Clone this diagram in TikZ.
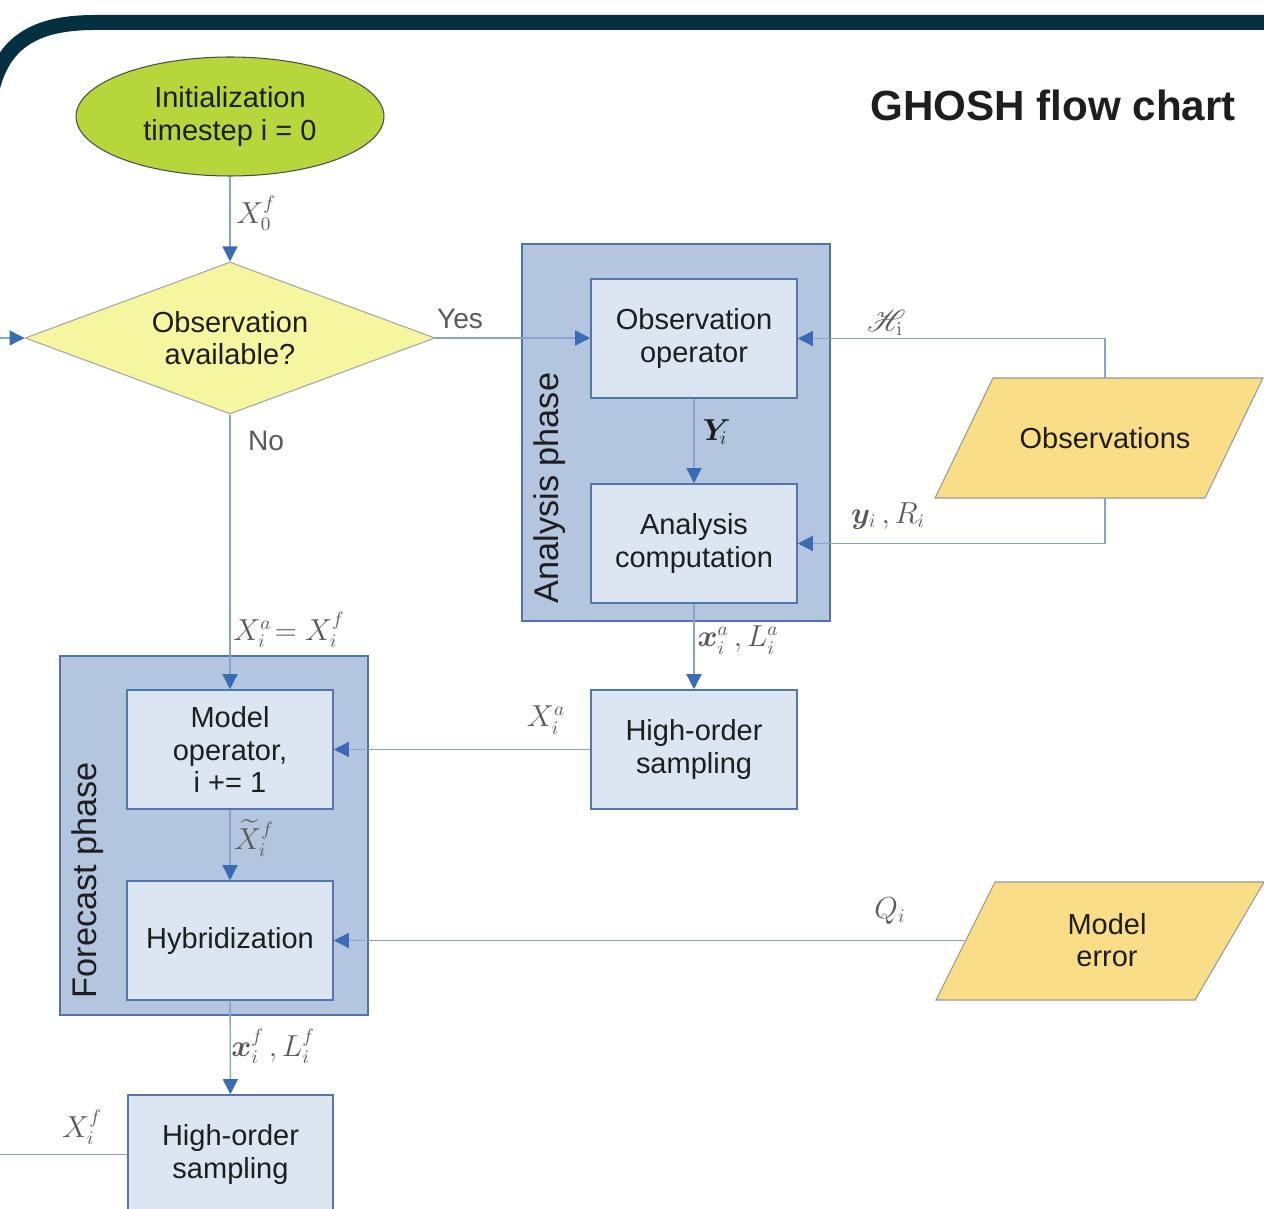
\documentclass[tikz,border=0pt]{standalone}
\usepackage[no-math]{fontspec}
\setmainfont{Liberation Sans}
\usepackage{amsmath,bm,mathrsfs}
\usetikzlibrary{shapes.geometric,arrows.meta}
\definecolor{band}{HTML}{04303F}
\definecolor{grpfill}{HTML}{B4C6DF}
\definecolor{grpline}{HTML}{4F74AA}
\definecolor{boxfill}{HTML}{DCE6F2}
\definecolor{boxline}{HTML}{5077AE}
\definecolor{conn}{HTML}{8AA3CC}
\definecolor{tipc}{HTML}{3A6BB5}
\definecolor{initfill}{HTML}{B6D63C}
\definecolor{diafill}{HTML}{F6F6A0}
\definecolor{parafill}{HTML}{F9DD87}
\definecolor{txt}{HTML}{1E1E1E}
\definecolor{lbl}{HTML}{5A5A5A}
\tikzset{
  grp/.style={draw=grpline, fill=grpfill, line width=0.9pt, inner sep=0pt},
  stepbox/.style={draw=boxline, fill=boxfill, line width=0.9pt, inner sep=0pt,
    minimum width=4.12cm, minimum height=2.38cm, align=center, text=txt,
    font=\fontsize{16.5}{18.5}\selectfont},
  conline/.style={draw=conn, line width=0.8pt},
  arr/.style={conline, -{Triangle[length=0.3cm,width=0.3cm,color=tipc]}},
  lab/.style={text=lbl, font=\fontsize{16}{19}\selectfont, inner sep=0pt},
  grptxt/.style={rotate=90, text=txt, font=\fontsize{19.5}{22}\selectfont, inner sep=0pt},
  para/.style={draw=gray!80, fill=parafill, line width=0.6pt},
  ptxt/.style={align=center, text=txt, font=\fontsize{16.5}{18.5}\selectfont, inner sep=0pt}
}
\begin{document}
\begin{tikzpicture}[x=0.02cm,y=-0.02cm]
\clip (0,0) rectangle (1264,1209);
\fill[white] (0,0) rectangle (1264,1209);
% top band
\draw[line width=0.3cm, color=band] (-12,115) .. controls (-6,45) and (30,22.5) .. (95,22.5) -- (1290,22.5);
% title
\node[text=txt, font=\fontsize{24}{28}\selectfont\bfseries] (title) at (1053,105) {GHOSH flow chart};
% groups
\node[grp, minimum width=6.16cm, minimum height=7.54cm] (anagrp) at (676,432.5) {};
\node[grp, minimum width=6.16cm, minimum height=7.18cm] (fcgrp) at (214,835.5) {};
\node[grptxt] (anatxt) at (550,488) {Analysis phase};
\node[grptxt] (fctxt) at (88,880) {Forecast phase};
% start ellipse
\node[ellipse, draw=gray!60!black, fill=initfill, line width=0.6pt, minimum width=6.16cm, minimum height=2.38cm, inner sep=0pt, align=center, text=txt, font=\fontsize{16.5}{18.5}\selectfont] (init) at (230,116.5) {Initialization\\timestep i = 0};
% decision
\node[diamond, aspect=2.7, draw=gray!70, fill=diafill, line width=0.6pt, minimum width=8.2cm, minimum height=3.04cm, inner sep=0pt, align=center, text=txt, font=\fontsize{16.5}{18.5}\selectfont] (dia) at (230,338) {Observation\\available?};
% boxes
\node[stepbox] (obsop) at (694,338.5) {Observation\\operator};
\node[stepbox] (anacomp) at (694,543.5) {Analysis\\computation};
\node[stepbox] (hosR) at (694,749.5) {High-order\\sampling};
\node[stepbox] (model) at (230,749.5) {Model\\operator,\\i += 1};
\node[stepbox] (hybrid) at (230,940.5) {Hybridization};
\node[stepbox, minimum width=4.1cm] (hosB) at (230.5,1154.5) {High-order\\sampling};
% parallelograms
\draw[para] (935,498) -- (1205,498) -- (1263,378) -- (993,378) -- cycle;
\node[ptxt, minimum height=2.4cm] (obs) at (1105,438) {Observations};
\draw[para] (936,1000) -- (1195,1000) -- (1264,882) -- (995,882) -- cycle;
\node[ptxt] (merr) at (1107,940) {Model\\error};
\coordinate (merrL) at (965.5,940.5);
\coordinate (inL) at (0,338);
\coordinate (outL) at (0,1154.5);
% connectors
\draw[arr] (init) -- (dia);
\draw[arr] (inL) -- (dia.west);
\draw[arr] (dia.east) -- (dia.east -| obsop.west);
\draw[arr] (dia.south) -- (model.north);
\draw[arr] (obs.north) |- (obsop.east);
\draw[arr] (obs.south) |- (anacomp.east);
\draw[arr] (obsop) -- (anacomp);
\draw[arr] (anacomp) -- (hosR);
\draw[arr] (hosR.west) -- (hosR.west -| model.east);
\draw[arr] (model) -- (hybrid);
\draw[arr] (merrL) -- (merrL -| hybrid.east);
\draw[arr] (hybrid) -- (hosB);
\draw[conline] (hosB.west) -- (outL);
% labels
\node[lab] (l1) at (256,213) {$X_0^f$};
\node[lab] (lyes) at (460,319) {Yes};
\node[lab] (lno) at (266,441) {No};
\node[lab] (l2) at (885,323) {$\mathscr{H}_{\mathrm{i}}$};
\node[lab, text=txt] (l3) at (715,432) {$\bm{Y}_{\!i}$};
\node[lab] (l4) at (888,516) {$\bm{y}_i\,,R_i$};
\node[lab] (l5) at (738,640) {$\bm{x}_i^a\,,L_i^a$};
\node[lab] (l6) at (546,720) {$X_i^a$};
\node[lab] (l7) at (289,630) {$X_i^a\!=X_i^f$};
\node[lab] (l8) at (254,838) {$\widetilde{X}_i^f$};
\node[lab] (l9) at (890,911) {$Q_i$};
\node[lab] (l10) at (273,1046) {$\bm{x}_i^f\,,L_i^f$};
\node[lab] (l11) at (82,1127) {$X_i^f$};
\end{tikzpicture}
\end{document}
